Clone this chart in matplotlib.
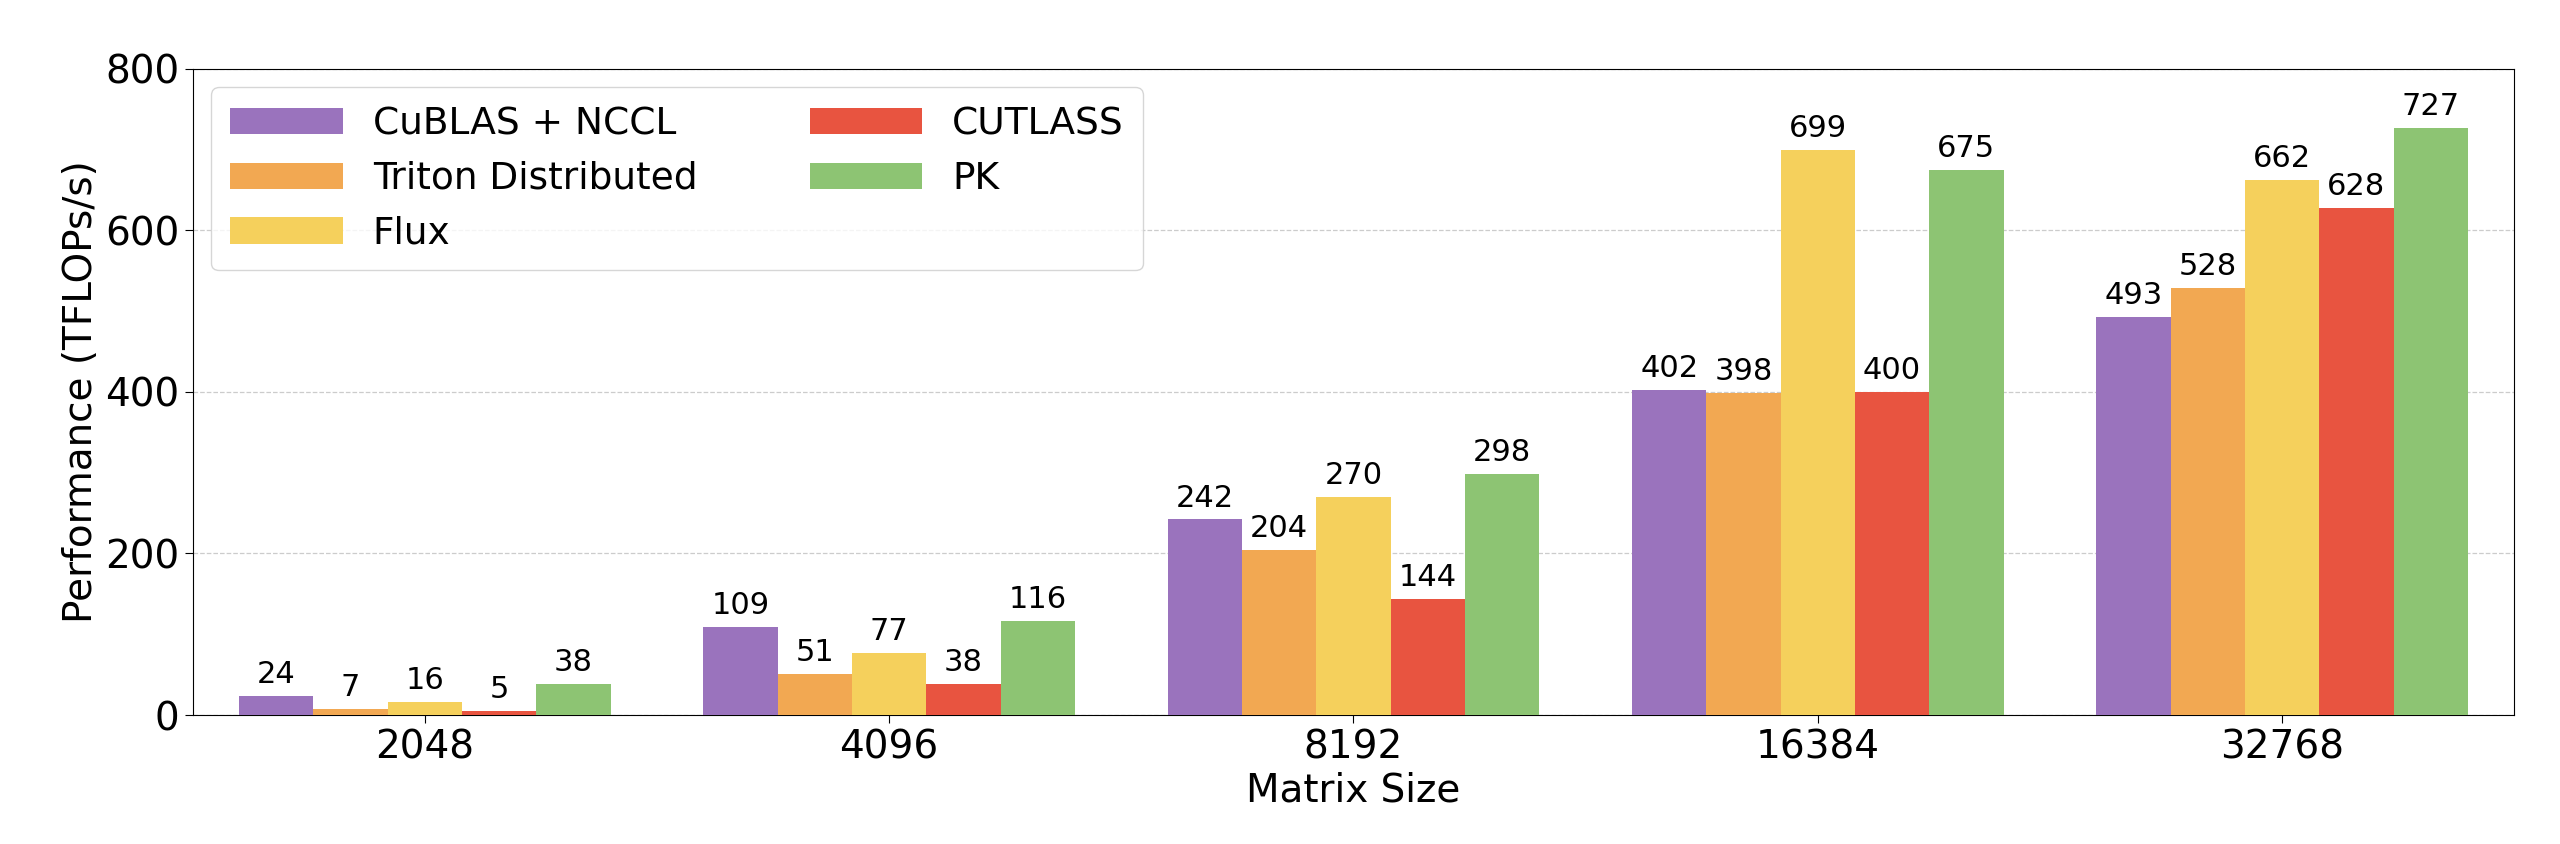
import matplotlib
matplotlib.use("Agg")
import matplotlib.pyplot as plt
import numpy as np

sizes = ["2048", "4096", "8192", "16384", "32768"]
series = ["CuBLAS + NCCL", "Triton Distributed", "Flux", "CUTLASS", "PK"]
cublas = [24, 109, 242, 402, 493]
triton = [7, 51, 204, 398, 528]
flux = [16, 77, 270, 699, 662]
cutlass = [5, 38, 144, 400, 628]
pk = [38, 116, 298, 675, 727]
values = [cublas, triton, flux, cutlass, pk]
colors = ["#9a73bd", "#f2a852", "#f5d05c", "#e85440", "#8dc473"]

W, H = 1568, 517
fig = plt.figure(figsize=(25.6, 8.44), dpi=100)
ax = fig.add_axes([118/W, 1-438/H, (1540-118)/W, (438-42)/H])
x = np.arange(len(sizes))
w = 0.16
for i, (name, vals, c) in enumerate(zip(series, values, colors)):
    bars = ax.bar(x + (i-2)*w, vals, w, label=name, color=c, zorder=3)
    ax.bar_label(bars, labels=[str(v) for v in vals], padding=5, fontsize=22)
ax.set_ylim(0, 800)
ax.set_xlim(-0.5, 4.5)
ax.set_yticks([0, 200, 400, 600, 800])
ax.set_xticks(x)
ax.set_xticklabels(sizes)
ax.tick_params(labelsize=28, length=6)
ax.set_xlabel("Matrix Size", fontsize=28, labelpad=4)
ax.set_ylabel("Performance (TFLOPs/s)", fontsize=28)
ax.yaxis.grid(True, linestyle="--", color="#cccccc", linewidth=0.9, zorder=0)
ax.legend(ncol=2, fontsize=27, loc="upper left", frameon=True, borderpad=0.5,
          columnspacing=3.0, handlelength=3.0)
fig.savefig("out.png", dpi=100)
